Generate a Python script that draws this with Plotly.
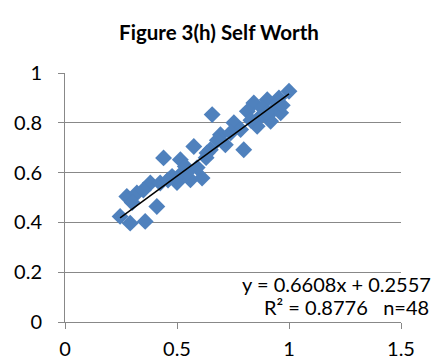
import plotly.graph_objects as go

title = "Figure 3(h) Self Worth"
x_vals = [0.246, 0.291, 0.276, 0.321, 0.358, 0.381, 0.41, 0.44, 0.425, 0.478,
          0.515, 0.522, 0.56, 0.575, 0.612, 0.649, 0.537, 0.30, 0.35, 0.46,
          0.50, 0.59, 0.63, 0.657, 0.634, 0.694, 0.716, 0.754, 0.798, 0.784,
          0.843, 0.873, 0.858, 0.918, 0.933, 0.955, 1.0, 0.963, 0.903, 0.814,
          0.74, 0.68, 0.88, 0.95, 0.83, 0.90, 0.97, 0.545]
y_vals = [0.424, 0.397, 0.504, 0.518, 0.404, 0.558, 0.464, 0.659, 0.558, 0.585,
          0.652, 0.598, 0.571, 0.705, 0.578, 0.692, 0.625, 0.48, 0.53, 0.57,
          0.56, 0.62, 0.66, 0.833, 0.679, 0.752, 0.712, 0.8, 0.692, 0.773,
          0.88, 0.826, 0.786, 0.806, 0.853, 0.9, 0.927, 0.84, 0.893, 0.846,
          0.76, 0.73, 0.86, 0.88, 0.81, 0.84, 0.87, 0.60]
slope = 0.6608
intercept = 0.2557
eq_text = "y = 0.6608x + 0.2557"
r2_text = "R² = 0.8776   n=48"
x_ticks = [0, 0.5, 1, 1.5]
x_tick_labels = ["0", "0.5", "1", "1.5"]
y_ticks = [0, 0.2, 0.4, 0.6, 0.8, 1]
y_tick_labels = ["0", "0.2", "0.4", "0.6", "0.8", "1"]

xmin, xmax = min(x_vals), max(x_vals)

fig = go.Figure()
fig.add_trace(go.Scatter(
    x=x_vals, y=y_vals, mode="markers",
    marker=dict(symbol="diamond", size=13, color="#4F81BD", line=dict(width=0)),
    showlegend=False, hoverinfo="skip"))
fig.add_trace(go.Scatter(
    x=[xmin, xmax], y=[slope * xmin + intercept, slope * xmax + intercept],
    mode="lines", line=dict(color="black", width=1.5),
    showlegend=False, hoverinfo="skip"))

font_family = "Lato, 'Open Sans', sans-serif"
fig.update_layout(
    width=438, height=363,
    margin=dict(l=65, r=37, t=73, b=41),
    paper_bgcolor="white", plot_bgcolor="white",
    font=dict(family=font_family, size=20, color="black"),
    title=dict(text="<b>" + title + "</b>", x=0.5, xanchor="center",
               y=1 - 33 / 363, yanchor="middle",
               font=dict(size=20.5, family=font_family, color="black")),
    xaxis=dict(range=[0, 1.5], tickvals=x_ticks, ticktext=x_tick_labels,
               showgrid=False, zeroline=False, showline=True,
               linecolor="#888888", linewidth=1, ticks="outside",
               ticklen=6, tickcolor="#888888", tickfont=dict(size=20),
               ticklabelstandoff=3, automargin=False),
    yaxis=dict(range=[0, 1], tickvals=y_ticks, ticktext=y_tick_labels,
               showgrid=True, gridcolor="#888888", gridwidth=1,
               zeroline=False, showline=True, linecolor="#888888", linewidth=1,
               ticks="outside", ticklen=6, tickcolor="#888888",
               tickfont=dict(size=20), ticklabelstandoff=12, automargin=False),
    annotations=[
        dict(text=eq_text, xref="paper", yref="paper", x=(433 - 65) / 336,
             y=(322 - 284) / 249, xanchor="right", yanchor="middle",
             showarrow=False, font=dict(size=20)),
        dict(text=r2_text, xref="paper", yref="paper", x=(431 - 65) / 336,
             y=(322 - 307) / 249, xanchor="right", yanchor="middle",
             showarrow=False, font=dict(size=20)),
    ],
)
fig.write_html("out.html")
